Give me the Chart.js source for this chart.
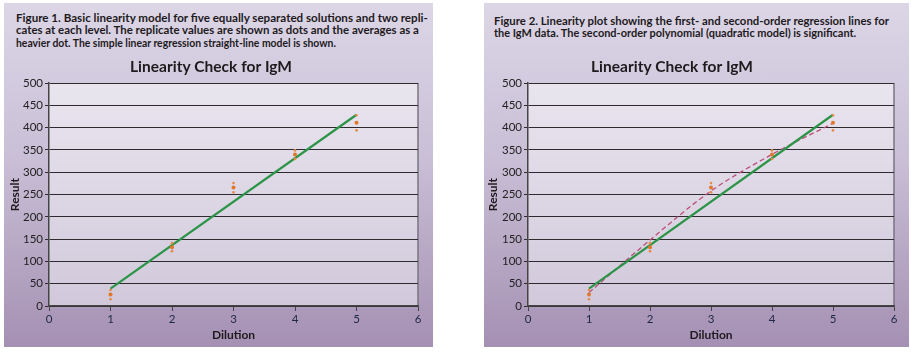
<!DOCTYPE html>
<html>
<head>
<meta charset="utf-8">
<script src="https://cdn.jsdelivr.net/npm/chart.js@4.4.0/dist/chart.umd.min.js"></script>
<style>
  body { margin: 0; background: #fff; width: 911px; height: 353px; position: relative; overflow: hidden; }
  .panel { position: absolute; top: 3px; height: 344px; background: linear-gradient(to bottom, #dcd6e6 0%, #c9bfd6 45%, #a590b3 100%); }
  .cap { position: absolute; font-family: "Lato", sans-serif; font-weight: bold; font-size: 12px; color: #1e1a1d; white-space: nowrap; }
  .cap div { height: 12.3px; line-height: 12.3px; transform-origin: left center; }
  canvas { position: absolute; }
</style>
</head>
<body>
<div class="panel" style="left:4px;width:429px"></div>
<div class="panel" style="left:484px;width:425px"></div>

<div class="cap" style="left:16px;top:12px">
  <div data-w="412">Figure 1. Basic linearity model for five equally separated solutions and two repli-</div>
  <div data-w="406">cates at each level. The replicate values are shown as dots and the averages as a</div>
  <div data-w="369">heavier dot. The simple linear regression straight-line model is shown.</div>
</div>
<div class="cap" style="left:494px;top:15px">
  <div data-w="395">Figure 2. Linearity plot showing the first- and second-order regression lines for</div>
  <div data-w="381">the IgM data. The second-order polynomial (quadratic model) is significant.</div>
</div>

<canvas id="chart1" width="429" height="296" style="left:4px;top:52px"></canvas>
<canvas id="chart2" width="459" height="296" style="left:450px;top:52px"></canvas>

<script>
// data
const dilution = [1, 2, 3, 4, 5]
const replicateA = [36, 141, 276, 349, 428]
const replicateB = [15, 123, 255, 330, 394]
const averages = [26, 132, 266, 340, 411]
const linearX = [1, 5]
const linearY = [39, 429]
const quadraticY = [30, 148, 258, 340, 410]
const xTicks = [0, 1, 2, 3, 4, 5, 6]
const yTicks = [0, 50, 100, 150, 200, 250, 300, 350, 400, 450, 500]

const chartTitle = 'Linearity Check for IgM'
const xTitle = 'Dilution'
const yTitle = 'Result'

// squeeze caption lines to the width they have in the print
document.querySelectorAll('.cap div').forEach(line => {
    const target = Number(line.dataset.w)
    const actual = line.scrollWidth
    line.style.transform = `scaleX(${target / actual})`
})

const toPoints = (xs, ys) => xs.map((x, i) => ({ x, y: ys[i] }))

const plotBackground = {
    id: 'plotBackground',
    beforeDraw(chart) {
        const { ctx, chartArea: a } = chart
        const g = ctx.createLinearGradient(0, a.top, 0, a.bottom)
        g.addColorStop(0, '#e9e5ef')
        g.addColorStop(1, '#d1c9db')
        ctx.save()
        ctx.fillStyle = g
        ctx.fillRect(a.left, a.top, a.right - a.left, a.bottom - a.top)
        ctx.strokeStyle = '#7a7480'
        ctx.lineWidth = 1.5
        ctx.beginPath()
        ctx.moveTo(a.right, a.top)
        ctx.lineTo(a.right, a.bottom)
        ctx.stroke()
        ctx.restore()
    }
}

const makeChart = (id, withQuadratic, yWidth, titlePad) => {
    const datasets = [
        {
            data: toPoints(dilution, averages),
            backgroundColor: '#e0762a',
            borderWidth: 0,
            pointRadius: 2
        },
        {
            data: toPoints(dilution, replicateA).concat(toPoints(dilution, replicateB)),
            backgroundColor: '#e58a45',
            borderWidth: 0,
            pointRadius: 1.3
        },
        {
            data: toPoints(linearX, linearY),
            showLine: true,
            borderColor: '#2b9447',
            borderWidth: 2.2,
            pointRadius: 0
        }
    ]

    if (withQuadratic) {
        datasets.push({
            data: toPoints(dilution, quadraticY),
            showLine: true,
            borderColor: '#bd4f7a',
            borderWidth: 1.3,
            borderDash: [5, 3],
            cubicInterpolationMode: 'monotone',
            pointRadius: 0
        })
    }

    return new Chart(document.getElementById(id), {
        type: 'scatter',
        data: { datasets },
        plugins: [plotBackground],
        options: {
            responsive: false,
            animation: false,
            devicePixelRatio: 1,
            layout: { padding: { left: 0, right: 15, top: 0, bottom: 0 } },
            plugins: {
                legend: { display: false },
                tooltip: { enabled: false },
                title: {
                    display: true,
                    text: chartTitle,
                    color: '#1e1a1d',
                    font: { family: 'Lato', size: 15.5, weight: 'bold', lineHeight: 1.2 },
                    padding: { top: 6, bottom: 6.5 }
                }
            },
            scales: {
                x: {
                    type: 'linear',
                    min: 0,
                    max: 6,
                    afterBuildTicks: axis => { axis.ticks = xTicks.map(v => ({ value: v })) },
                    afterFit: axis => { axis.height = 42 },
                    grid: { drawOnChartArea: false, drawTicks: true, tickLength: 5, color: '#444' },
                    border: { color: '#444', width: 1.5 },
                    ticks: { color: '#1f2746', padding: 1, font: { family: 'Lato', size: 11.5 } },
                    title: {
                        display: true,
                        text: xTitle,
                        color: '#1e1a1d',
                        font: { family: 'Lato', size: 12, weight: 'bold' },
                        padding: { top: 0, bottom: 6 }
                    }
                },
                y: {
                    min: 0,
                    max: 500,
                    afterBuildTicks: axis => { axis.ticks = yTicks.map(v => ({ value: v })) },
                    afterFit: axis => { axis.width = yWidth },
                    grid: { color: '#2e2a30', lineWidth: 1, tickLength: 4 },
                    border: { color: '#444', width: 1.5 },
                    ticks: { color: '#222', padding: 2, font: { family: 'Lato', size: 11.5 } },
                    title: {
                        display: true,
                        text: yTitle,
                        color: '#1e1a1d',
                        font: { family: 'Lato', size: 12, weight: 'bold' },
                        padding: { top: titlePad, bottom: 0 }
                    }
                }
            }
        }
    })
}

makeChart('chart1', false, 45, 4)
makeChart('chart2', true, 78, 36)
</script>
</body>
</html>
